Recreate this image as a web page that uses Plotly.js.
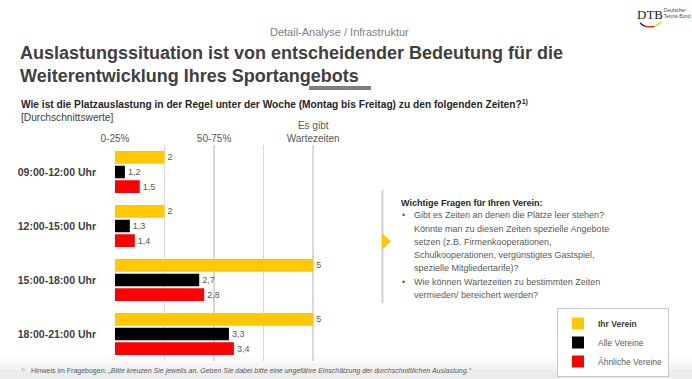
<!DOCTYPE html>
<html><head><meta charset="utf-8">
<script src="https://cdn.plot.ly/plotly-3.0.1.min.js"></script>
<style>html,body{margin:0;padding:0;background:#fff;}#chart{width:692px;height:379px;}</style>
</head><body><div id="chart"></div>
<script>
// ---- data ----
const categories = ['09:00-12:00 Uhr', '12:00-15:00 Uhr', '15:00-18:00 Uhr', '18:00-21:00 Uhr'];
const ihrVerein = [2, 2, 5, 5];
const alleVereine = [1.2, 1.3, 2.7, 3.3];
const aehnlicheVereine = [1.5, 1.4, 2.8, 3.4];
const seriesNames = ['Ihr Verein', 'Alle Vereine', 'Ähnliche Vereine'];
const tickValues = [1, 3, 5];
const tickLabels = ['0-25%', '50-75%', 'Es gibt<br>Wartezeiten'];

const FONT = 'Liberation Sans, Arial, sans-serif';
const W = 692, H = 379;
const ML = 115, MR = 359, MT = 145, MB = 18;
const PW = W - ML - MR, PH = H - MT - MB;
function px(x) { return (x - ML) / PW; }
function py(y) { return (H - MB - y) / PH; }
function pt(x, y) { return px(x) + ',' + py(y); }
function fmt(v) { return String(v).replace('.', ','); }

function barTrace(name, values, color) {
  return {
    type: 'bar', orientation: 'h', name: name, y: categories, x: values,
    marker: { color: color, line: { width: 0 } },
    text: values.map(fmt), textposition: 'outside', constraintext: 'none',
    textfont: { size: 9, color: '#595959', family: FONT },
    hoverinfo: 'none'
  };
}

const traces = [
  barTrace('<b><span style="color:#404040">' + seriesNames[0] + '</span></b>', ihrVerein, '#FFC800'),
  barTrace(seriesNames[1], alleVereine, '#000000'),
  barTrace(seriesNames[2], aehnlicheVereine, '#FF0000')
];

function ann(text, x, y, o) {
  o = o || {};
  return Object.assign({
    text: text, xref: 'paper', yref: 'paper', x: px(x), y: py(y),
    xanchor: 'left', yanchor: 'middle', showarrow: false,
    font: { family: FONT, size: o.size || 9, color: o.color || '#595959', weight: o.weight || 'normal' }
  }, o.extra || {});
}

const panelLines = [
  'Gibt es Zeiten an denen die Plätze leer stehen?',
  'Könnte man zu diesen Zeiten spezielle Angebote',
  'setzen (z.B. Firmenkooperationen,',
  'Schulkooperationen, vergünstigtes Gastspiel,',
  'spezielle Mitgliedertarife)?',
  'Wie können Wartezeiten zu bestimmten Zeiten',
  'vermieden/ bereichert werden?'
];
const panelY = [215, 228.5, 242, 255, 268, 281.5, 294.5];

const annotations = [
  ann('Detail-Analyse / Infrastruktur', 339.5, 32, { size: 11, color: '#7f7f7f', extra: { xanchor: 'center' } }),
  ann('Wie ist die Platzauslastung in der Regel unter der Woche (Montag bis Freitag) zu den folgenden Zeiten?<sup>1)</sup>', 19, 104, { size: 10.2, color: '#262626', weight: 'bold' }),
  ann('[Durchschnittswerte]', 19, 117, { size: 10.2, color: '#404040' }),
  ann('Wichtige Fragen für Ihren Verein:', 399, 203, { size: 9, color: '#262626', weight: 'bold' }),
  ann('•', 400, 215, { size: 9 }),
  ann('•', 400, 281.5, { size: 9 }),
  ann('<sup>1)</sup>', 19, 369, { size: 6, color: '#7f7f7f' }),
  ann('Hinweis im Fragebogen: <i>„Bitte kreuzen Sie jeweils an. Geben Sie dabei bitte eine ungefähre Einschätzung der durchschnittlichen Auslastung.“</i>', 29, 371, { size: 7, color: '#595959' }),
  ann('DTB', 650, 14, { extra: { xanchor: 'center', font: { family: 'Liberation Serif, serif', size: 13, color: '#222' } } }),
  ann('Deutscher', 662, 11, { size: 4.8, color: '#444' }),
  ann('Tennis Bund', 662, 16.5, { size: 4.8, color: '#444' })
];
panelLines.forEach((t, i) => annotations.push(ann(t, 412, panelY[i], { size: 9, color: '#595959' })));

const shapes = [
  { type: 'rect', xref: 'paper', yref: 'paper', x0: px(0), x1: px(692), y0: py(357), y1: py(379), fillcolor: '#fbfbfb', line: { width: 0 }, layer: 'below' },
  { type: 'rect', xref: 'paper', yref: 'paper', x0: px(0), x1: px(692), y0: py(363), y1: py(379), fillcolor: '#f4f4f4', line: { width: 0 }, layer: 'below' },
  { type: 'rect', xref: 'paper', yref: 'paper', x0: px(0), x1: px(692), y0: py(370), y1: py(379), fillcolor: '#ececec', line: { width: 0 }, layer: 'below' },
  { type: 'rect', xref: 'paper', yref: 'paper', x0: px(309), x1: px(371), y0: py(86), y1: py(90), fillcolor: '#808080', line: { width: 0 } },
  { type: 'line', xref: 'paper', yref: 'paper', x0: px(382.5), x1: px(382.5), y0: py(190), y1: py(303), line: { color: '#d0d0d0', width: 2 } },
  { type: 'path', xref: 'paper', yref: 'paper', path: 'M' + pt(382, 233) + ' L' + pt(391, 241.5) + ' L' + pt(382, 250) + ' Z', fillcolor: '#FFC800', line: { width: 0 } },
  { type: 'path', xref: 'paper', yref: 'paper', path: 'M' + pt(640, 23) + ' Q' + pt(643, 26) + ' ' + pt(646.5, 26.6), line: { color: '#222', width: 1.3 } },
  { type: 'path', xref: 'paper', yref: 'paper', path: 'M' + pt(646.5, 26.6) + ' Q' + pt(650, 27.2) + ' ' + pt(654, 26.3), line: { color: '#e00000', width: 1.3 } },
  { type: 'path', xref: 'paper', yref: 'paper', path: 'M' + pt(654, 26.3) + ' Q' + pt(658, 25.2) + ' ' + pt(661, 22), line: { color: '#FFC800', width: 1.3 } }
];

const layout = {
  width: W, height: H,
  margin: { l: ML, r: MR, t: MT, b: MB, pad: 0, autoexpand: false },
  paper_bgcolor: '#ffffff', plot_bgcolor: 'rgba(0,0,0,0)',
  font: { family: FONT, color: '#404040' },
  title: {
    text: 'Auslastungssituation ist von entscheidender Bedeutung für die<br>Weiterentwicklung Ihres Sportangebots',
    xref: 'container', yref: 'container', x: 20 / W, xanchor: 'left', y: 1 - 59 / H, yanchor: 'top',
    font: { family: FONT, size: 18, color: '#404040', weight: 'bold' }
  },
  barmode: 'group', bargap: 0.185, bargroupgap: 0.14,
  xaxis: {
    range: [1, 5.4], side: 'top', tickmode: 'array', tickvals: tickValues, ticktext: tickLabels,
    showgrid: true, gridcolor: '#d9d9d9', gridwidth: 1.5, zeroline: false, showline: false, ticks: '',
    minor: { tickmode: 'linear', tick0: 1, dtick: 1, showgrid: true, gridcolor: '#d9d9d9', gridwidth: 1.5, ticks: '' },
    tickfont: { family: FONT, size: 10, color: '#595959' }, fixedrange: true
  },
  yaxis: {
    type: 'category', autorange: 'reversed', showgrid: false, zeroline: false, showline: false, ticks: '',
    ticklabelstandoff: 18, tickfont: { family: FONT, size: 10.5, color: '#404040', weight: 'bold' }, fixedrange: true
  },
  showlegend: true,
  legend: {
    xref: 'paper', yref: 'paper', x: px(557), y: py(308), xanchor: 'left', yanchor: 'top',
    bgcolor: '#ffffff', bordercolor: '#c8c8c8', borderwidth: 1, traceorder: 'normal',
    font: { family: FONT, size: 8.5, color: '#595959' }
  },
  annotations: annotations,
  shapes: shapes
};

Plotly.newPlot('chart', traces, layout, { displayModeBar: false, staticPlot: true });
</script>
</body></html>
